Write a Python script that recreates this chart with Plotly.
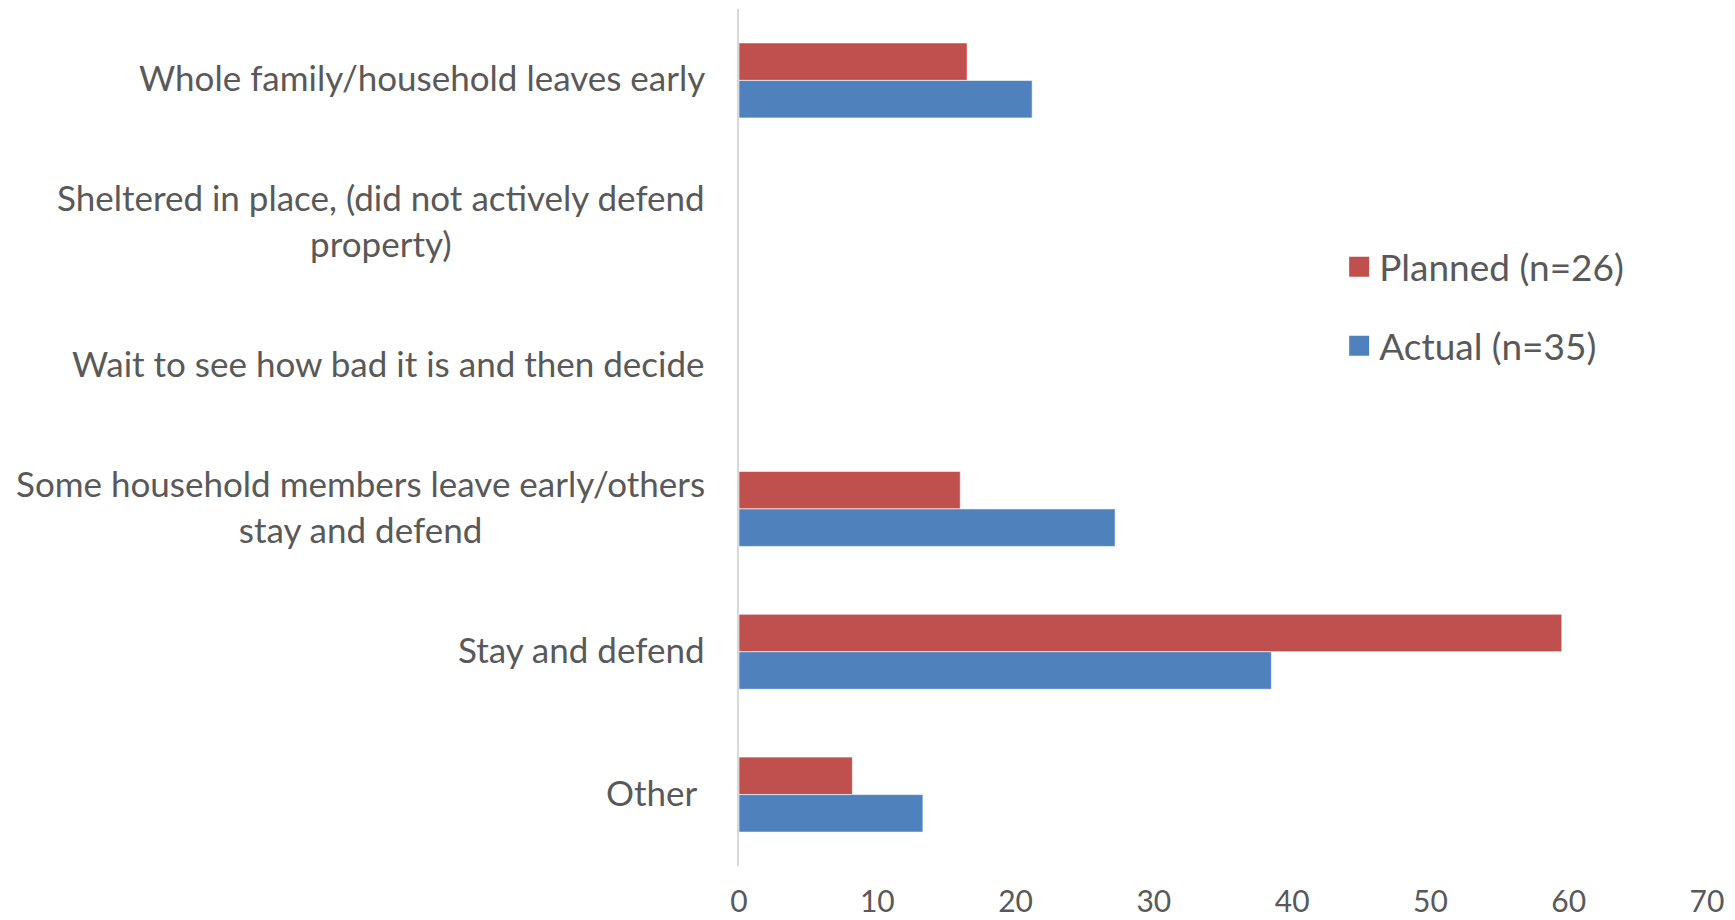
import plotly.graph_objects as go

categories = [
    "Whole family/household leaves early",
    "Sheltered in place, (did not actively defend<br>property)",
    "Wait to see how bad it is and then decide",
    "Some household members leave early/others<br>stay and defend",
    "Stay and defend",
    "Other\u00a0",
]
planned = [16.5, 0, 0, 16.0, 59.5, 8.2]
actual = [21.2, 0, 0, 27.2, 38.5, 13.3]
series_names = ["Planned (n=26)", "Actual (n=35)"]
colors = ["#C0504D", "#4F81BD"]
x_ticks = [0, 10, 20, 30, 40, 50, 60, 70]

FONT = "Lato"
TXT = "#595959"
FS = 35

fig = go.Figure()
for name, vals, col in zip(series_names, [planned, actual], colors):
    fig.add_trace(go.Bar(
        y=categories, x=vals, name=name, orientation="h",
        marker=dict(color=col, line=dict(color="rgba(255,255,255,0.6)", width=1)),
        showlegend=False,
    ))
for i, (name, col) in enumerate(zip(series_names, colors)):
    fig.add_trace(go.Scatter(
        x=[None], y=[None], mode="markers", name=name,
        marker=dict(symbol="square", size=22, color=col,
                    line=dict(color=col, width=4)),
        legendgroup=f"g{i}",
    ))

for cat in categories:
    fig.add_annotation(
        x=0, xref="paper", y=cat, yref="y", text=cat, showarrow=False,
        xanchor="right", align="center", xshift=-32, yshift=3,
        font=dict(family=FONT, size=FS, color=TXT),
    )

fig.update_layout(
    width=1727, height=912,
    margin=dict(l=731, r=28, t=1, b=54, autoexpand=False),
    paper_bgcolor="white", plot_bgcolor="white",
    barmode="group", bargap=0.475, bargroupgap=0,
    font=dict(family=FONT, size=FS, color=TXT),
    legend=dict(
        x=0.62, y=0.735, xanchor="left", yanchor="top",
        font=dict(family=FONT, size=37, color=TXT),
        tracegroupgap=28, bgcolor="rgba(0,0,0,0)",
    ),
    xaxis=dict(
        range=[0, 70], tickvals=x_ticks, showgrid=False, zeroline=False,
        showline=False, ticks="", ticklabelstandoff=15, automargin=False,
        tickfont=dict(family=FONT, size=30, color=TXT),
    ),
    yaxis=dict(
        autorange="reversed", showticklabels=False, ticks="",
        showgrid=False, zeroline=False, automargin=False,
        showline=True, linecolor="#D9D9D9", linewidth=2,
    ),
)

fig.write_html("out.html")
